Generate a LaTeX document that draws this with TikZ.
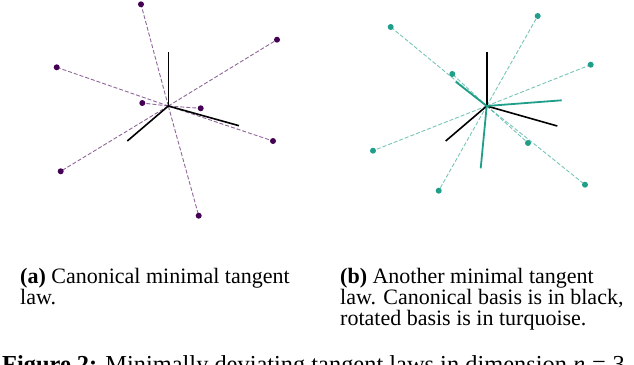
\documentclass[tikz,border=0pt]{standalone}
\usepackage{fontspec}
\setmainfont{Liberation Serif}
\definecolor{vpurple}{HTML}{440154}
\definecolor{vteal}{HTML}{1F9E89}
\begin{document}
\begin{tikzpicture}[x=1pt,y=-1pt,
  axis/.style={black,line width=1.6pt},
  rayA/.style={vpurple,opacity=0.6,line width=0.9pt,dash pattern=on 4pt off 2pt},
  rayB/.style={vteal,opacity=0.6,line width=0.9pt,dash pattern=on 4pt off 2pt},
  dotA/.style={circle,fill=vpurple,inner sep=0pt,minimum size=6pt},
  dotB/.style={circle,fill=vteal,inner sep=0pt,minimum size=6pt},
  rotaxis/.style={vteal,line width=1.8pt},
  captext/.style={anchor=base west,inner sep=0pt,font=\fontsize{22}{21}\selectfont},
  figtext/.style={anchor=base west,inner sep=0pt,font=\fontsize{24.4}{30}\selectfont}]
\clip (0,0) rectangle (634,364);
% ---------- panel (a)
\coordinate (ca) at (168.3,106);
\coordinate (ax1) at (168.3,52.3);
\coordinate (ax2) at (239,125.7);
\coordinate (ax3) at (127.3,141);
\node[dotA] (a1) at (141,4.3) {};
\node[dotA] (a2) at (277,39.7) {};
\node[dotA] (a3) at (56.7,67.3) {};
\node[dotA] (a4) at (142.3,103) {};
\node[dotA] (a5) at (200.7,108.3) {};
\node[dotA] (a6) at (273,141) {};
\node[dotA] (a7) at (60.7,171.3) {};
\node[dotA] (a8) at (198.7,215.7) {};
\foreach \i in {1,...,8} \draw[rayA] (ca) -- (a\i.center);
\draw[axis] (ca) -- (ax1);
\draw[axis] (ca) -- (ax2);
\draw[axis] (ca) -- (ax3);
% ---------- panel (b)
\coordinate (cb) at (486.7,106);
\coordinate (bx1) at (486.7,52.3);
\coordinate (bx2) at (557.3,126);
\coordinate (bx3) at (445.7,141);
\coordinate (r1) at (561.7,100.3);
\coordinate (r2) at (455.7,81.7);
\coordinate (r3) at (480.7,168.3);
\node[dotB] (b1) at (537.7,16) {};
\node[dotB] (b2) at (390.7,27) {};
\node[dotB] (b3) at (590.7,64.7) {};
\node[dotB] (b4) at (452.3,74) {};
\node[dotB] (b5) at (528,143) {};
\node[dotB] (b6) at (373,150.7) {};
\node[dotB] (b7) at (585,184.7) {};
\node[dotB] (b8) at (438.7,190.7) {};
\foreach \i in {1,...,8} \draw[rayB] (cb) -- (b\i.center);
\draw[axis] (cb) -- (bx1);
\draw[axis] (cb) -- (bx2);
\draw[axis] (cb) -- (bx3);
\draw[rotaxis] (cb) -- (r1);
\draw[rotaxis] (cb) -- (r2);
\draw[rotaxis] (cb) -- (r3);
% ---------- captions
\node[captext] (ta1) at (20,283) {\textbf{(a)} Canonical minimal tangent};
\node[captext] (ta2) at (20,304) {law.};
\node[captext] (tb1) at (340,283) {\textbf{(b)} Another minimal tangent};
\node[captext] (tb2) at (340,304) {law. Canonical basis is in black,};
\node[captext] (tb3) at (340,325) {rotated basis is in turquoise.};
\node[figtext] (fig) at (2,372) {\textbf{Figure 2:} Minimally deviating tangent laws in dimension \textit{n}\;=\;3.};
\end{tikzpicture}
\end{document}
